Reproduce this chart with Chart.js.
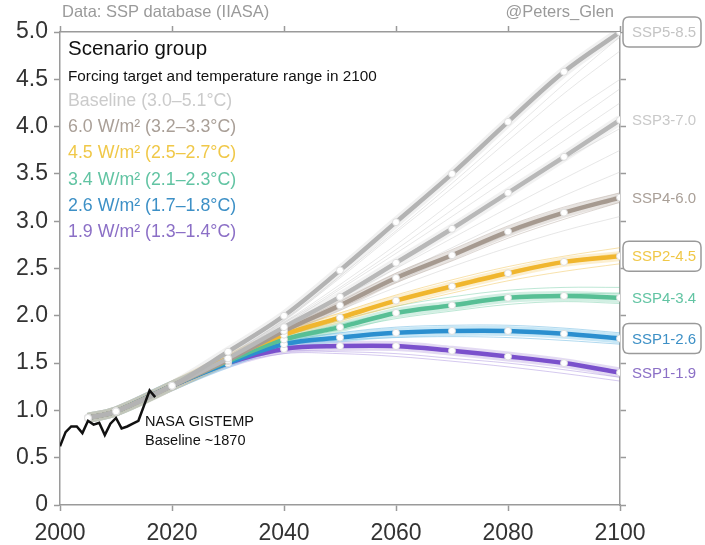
<!DOCTYPE html>
<html>
<head>
<meta charset="utf-8">
<script src="https://cdn.jsdelivr.net/npm/chart.js@4.4.0/dist/chart.umd.min.js"></script>
<style>
  html, body { margin: 0; padding: 0; background: #fff; }
  #wrap { width: 705px; height: 545px; }
</style>
</head>
<body>
<div id="wrap"><canvas id="myChart" width="705" height="545"></canvas></div>
<script>
// marker years for the main scenario lines
const anos = [2005, 2010, 2020, 2030, 2040, 2050, 2060, 2070, 2080, 2090, 2100];
const ssp585 = [0.92, 0.99, 1.26, 1.62, 2.00, 2.48, 2.99, 3.50, 4.05, 4.58, 5.00];
const ssp370 = [0.92, 0.99, 1.26, 1.55, 1.88, 2.20, 2.56, 2.92, 3.30, 3.68, 4.07];
const ssp460 = [0.92, 0.99, 1.26, 1.53, 1.84, 2.11, 2.40, 2.64, 2.89, 3.09, 3.25];
const ssp245 = [0.92, 0.99, 1.26, 1.55, 1.80, 1.98, 2.16, 2.31, 2.45, 2.57, 2.63];
const ssp434 = [0.92, 0.99, 1.26, 1.52, 1.75, 1.88, 2.03, 2.11, 2.19, 2.21, 2.19];
const ssp126 = [0.92, 0.99, 1.26, 1.50, 1.70, 1.77, 1.82, 1.84, 1.84, 1.81, 1.76];
const ssp119 = [0.92, 0.99, 1.26, 1.50, 1.65, 1.68, 1.68, 1.63, 1.57, 1.50, 1.40];

// thin ensemble members, one value per decade 2010..2100
const anosEns = [2010, 2020, 2030, 2040, 2050, 2060, 2070, 2080, 2090, 2100];
const ensBaseline = [
  [0.99, 1.25, 1.58, 1.96, 2.42, 2.90, 3.40, 3.92, 4.45, 4.95],
  [0.99, 1.25, 1.58, 1.95, 2.40, 2.88, 3.35, 3.85, 4.35, 4.80],
  [0.99, 1.25, 1.57, 1.93, 2.33, 2.75, 3.20, 3.65, 4.10, 4.50],
  [0.99, 1.24, 1.56, 1.92, 2.30, 2.70, 3.12, 3.55, 3.98, 4.40],
  [0.99, 1.24, 1.55, 1.90, 2.28, 2.66, 3.05, 3.45, 3.85, 4.25],
  [0.99, 1.24, 1.54, 1.88, 2.22, 2.58, 2.94, 3.30, 3.65, 3.98],
  [0.99, 1.24, 1.53, 1.86, 2.18, 2.50, 2.82, 3.14, 3.45, 3.75],
  [0.99, 1.23, 1.52, 1.83, 2.13, 2.43, 2.72, 3.00, 3.27, 3.52],
  [0.99, 1.23, 1.52, 1.82, 2.10, 2.36, 2.62, 2.86, 3.08, 3.28],
  [0.99, 1.23, 1.51, 1.80, 2.06, 2.30, 2.52, 2.72, 2.90, 3.05]
];
const ens60 = [
  [0.99, 1.25, 1.54, 1.86, 2.15, 2.45, 2.70, 2.95, 3.15, 3.30],
  [0.99, 1.25, 1.52, 1.82, 2.08, 2.35, 2.58, 2.82, 3.02, 3.20]
];
const ens45 = [
  [0.99, 1.25, 1.56, 1.83, 2.03, 2.22, 2.38, 2.52, 2.63, 2.72],
  [0.99, 1.25, 1.55, 1.80, 2.00, 2.17, 2.33, 2.47, 2.58, 2.66],
  [0.99, 1.25, 1.54, 1.78, 1.95, 2.10, 2.24, 2.37, 2.47, 2.55]
];
const ens34 = [
  [0.99, 1.25, 1.53, 1.78, 1.95, 2.10, 2.20, 2.27, 2.30, 2.30],
  [0.99, 1.25, 1.52, 1.76, 1.91, 2.04, 2.13, 2.20, 2.23, 2.24],
  [0.99, 1.25, 1.51, 1.73, 1.85, 1.97, 2.05, 2.12, 2.15, 2.13]
];
const ens26 = [
  [0.99, 1.25, 1.50, 1.72, 1.82, 1.88, 1.90, 1.90, 1.87, 1.82],
  [0.99, 1.25, 1.50, 1.70, 1.78, 1.83, 1.85, 1.84, 1.80, 1.75],
  [0.99, 1.25, 1.49, 1.68, 1.74, 1.77, 1.78, 1.77, 1.74, 1.70]
];
const ens19 = [
  [0.99, 1.25, 1.49, 1.66, 1.68, 1.66, 1.62, 1.56, 1.49, 1.42],
  [0.99, 1.24, 1.48, 1.62, 1.62, 1.60, 1.55, 1.50, 1.43, 1.35],
  [0.99, 1.24, 1.47, 1.60, 1.60, 1.57, 1.52, 1.46, 1.39, 1.31]
];

// NASA GISTEMP, baseline ~1870
const anosNasa = [2000, 2001, 2002, 2003, 2004, 2005, 2006, 2007, 2008, 2009, 2010, 2011, 2012, 2013, 2014, 2015, 2016, 2017];
const nasa = [0.62, 0.77, 0.83, 0.83, 0.76, 0.89, 0.85, 0.87, 0.74, 0.86, 0.92, 0.81, 0.83, 0.86, 0.89, 1.05, 1.21, 1.14];

const ticksY = [0, 0.5, 1.0, 1.5, 2.0, 2.5, 3.0, 3.5, 4.0, 4.5, 5.0];
const ticksX = [2000, 2020, 2040, 2060, 2080, 2100];

const legendaTitulo = 'Scenario group';
const legendaSub = 'Forcing target and temperature range in 2100';
const legendaItens = ['Baseline (3.0–5.1°C)', '6.0 W/m² (3.2–3.3°C)', '4.5 W/m² (2.5–2.7°C)',
  '3.4 W/m² (2.1–2.3°C)', '2.6 W/m² (1.7–1.8°C)', '1.9 W/m² (1.3–1.4°C)'];
const coresLegenda = ['#cbcbcb', '#a99f97', '#f0c848', '#62c4a3', '#3d90c6', '#8b6fc6'];

const cenarios = [
  { nome: 'SSP5-8.5', dados: ssp585, cor: '#b3b3b3', halo: 'rgba(200,200,200,0.25)', texto: '#c4c4c4', caixa: true },
  { nome: 'SSP3-7.0', dados: ssp370, cor: '#b8b8b8', halo: 'rgba(205,205,205,0.25)', texto: '#c9c9c9', caixa: false },
  { nome: 'SSP4-6.0', dados: ssp460, cor: '#a69a90', halo: 'rgba(185,175,165,0.35)', texto: '#a99f97', caixa: false },
  { nome: 'SSP2-4.5', dados: ssp245, cor: '#f0b62e', halo: 'rgba(245,210,120,0.35)', texto: '#f0c848', caixa: true },
  { nome: 'SSP4-3.4', dados: ssp434, cor: '#57bf95', halo: 'rgba(125,208,175,0.35)', texto: '#62c4a3', caixa: false },
  { nome: 'SSP1-2.6', dados: ssp126, cor: '#2b8fcf', halo: 'rgba(115,195,232,0.4)', texto: '#3d90c6', caixa: true },
  { nome: 'SSP1-1.9', dados: ssp119, cor: '#7a50cc', halo: 'rgba(175,150,222,0.35)', texto: '#8b6fc6', caixa: false }
];

const grupos = [
  { membros: ensBaseline, cor: 'rgba(185,185,185,0.35)' },
  { membros: ens60, cor: 'rgba(170,155,145,0.4)' },
  { membros: ens45, cor: 'rgba(240,190,70,0.45)' },
  { membros: ens34, cor: 'rgba(90,195,150,0.4)' },
  { membros: ens26, cor: 'rgba(60,160,215,0.4)' },
  { membros: ens19, cor: 'rgba(150,120,215,0.4)' }
];

function pontos(xs, ys) {
  return xs.map((x, i) => ({ x: x, y: ys[i] }));
}

const datasets = [];
grupos.forEach(g => {
  g.membros.forEach(m => {
    datasets.push({
      data: pontos(anosEns, m), borderColor: g.cor, borderWidth: 1,
      pointRadius: 0, tension: 0.35, order: 4
    });
  });
});
cenarios.forEach(c => {
  datasets.push({
    data: pontos(anos, c.dados), borderColor: c.halo, borderWidth: 10,
    pointRadius: 0, tension: 0.35, order: 3
  });
});
cenarios.forEach(c => {
  datasets.push({
    data: pontos(anos, c.dados), borderColor: c.cor, borderWidth: 4.5,
    pointRadius: 3.5, pointBackgroundColor: '#ffffff', pointBorderColor: 'rgba(220,220,220,0.9)',
    pointBorderWidth: 1, tension: 0.35, order: 2
  });
});
datasets.push({
  data: pontos(anosNasa, nasa), borderColor: '#111111', borderWidth: 2.5,
  pointRadius: 0, tension: 0, order: 1
});

const fonte = '"Liberation Sans", Arial, Helvetica, sans-serif';

function caixaArredondada(ctx, x, y, w, h, r) {
  ctx.beginPath();
  ctx.moveTo(x + r, y);
  ctx.lineTo(x + w - r, y);
  ctx.quadraticCurveTo(x + w, y, x + w, y + r);
  ctx.lineTo(x + w, y + h - r);
  ctx.quadraticCurveTo(x + w, y + h, x + w - r, y + h);
  ctx.lineTo(x + r, y + h);
  ctx.quadraticCurveTo(x, y + h, x, y + h - r);
  ctx.lineTo(x, y + r);
  ctx.quadraticCurveTo(x, y, x + r, y);
  ctx.closePath();
}

const textosPlugin = {
  id: 'textos',
  afterDraw(chart) {
    const ctx = chart.ctx;
    const area = chart.chartArea;
    const sy = chart.scales.y;
    const sx = chart.scales.x;
    ctx.save();
    ctx.textBaseline = 'middle';

    // fontes e créditos no topo
    ctx.font = '16.5px ' + fonte;
    ctx.fillStyle = '#9a9a9a';
    ctx.textAlign = 'left';
    ctx.fillText('Data: SSP database (IIASA)', area.left + 2, 12);
    ctx.textAlign = 'right';
    ctx.fillText('@Peters_Glen', area.right - 6, 12);

    // legenda
    ctx.textAlign = 'left';
    ctx.fillStyle = '#111';
    ctx.font = '20.5px ' + fonte;
    ctx.fillText(legendaTitulo, 68, 49);
    ctx.font = '15.3px ' + fonte;
    ctx.fillText(legendaSub, 68, 77);
    ctx.font = '17.8px ' + fonte;
    legendaItens.forEach((t, i) => {
      ctx.fillStyle = coresLegenda[i];
      ctx.fillText(t, 68, 101 + i * 26.3);
    });

    // anotação NASA
    ctx.fillStyle = '#111';
    ctx.font = '14.5px ' + fonte;
    ctx.fillText('NASA GISTEMP', sx.getPixelForValue(2015.2), 422);
    ctx.fillText('Baseline ~1870', sx.getPixelForValue(2015.2), 441);

    // rótulos à direita
    ctx.font = '15px ' + fonte;
    cenarios.forEach(c => {
      const yv = sy.getPixelForValue(c.dados[c.dados.length - 1]);
      if (c.caixa) {
        ctx.strokeStyle = '#9a9a9a';
        ctx.lineWidth = 1.5;
        ctx.fillStyle = '#fff';
        caixaArredondada(ctx, area.right + 3, yv - 15, 78, 30, 6);
        ctx.fill();
        ctx.stroke();
      }
      ctx.fillStyle = c.texto;
      ctx.fillText(c.nome, area.right + 12, yv + 1);
    });
    ctx.restore();
  }
};

const eixo = {
  border: { display: true, color: '#9a9a9a', width: 1.5 },
  grid: { display: true, drawOnChartArea: false, drawTicks: true, tickLength: 6, color: '#9a9a9a', tickWidth: 1.5 }
};
const semRotulo = { color: 'rgba(0,0,0,0)', font: { size: 1 }, padding: 0, autoSkip: false, callback: () => '' };

new Chart(document.getElementById('myChart'), {
  type: 'line',
  data: { datasets: datasets },
  plugins: [textosPlugin],
  options: {
    responsive: false,
    animation: false,
    events: [],
    layout: { padding: 0 },
    plugins: { legend: { display: false }, tooltip: { enabled: false }, title: { display: false } },
    scales: {
      x: {
        type: 'linear', position: 'bottom', min: 2000, max: 2100,
        afterBuildTicks: s => { s.ticks = ticksX.map(v => ({ value: v })); },
        afterFit: s => { s.height = 40; },
        ticks: { font: { family: fonte, size: 23 }, color: '#333', padding: 9, maxRotation: 0, autoSkip: false,
          callback: v => String(v) },
        ...eixo
      },
      x2: {
        type: 'linear', position: 'top', min: 2000, max: 2100,
        afterBuildTicks: s => { s.ticks = ticksX.map(v => ({ value: v })); },
        afterFit: s => { s.height = 32; },
        ticks: semRotulo,
        ...eixo
      },
      y: {
        type: 'linear', position: 'left', min: 0, max: 5,
        afterBuildTicks: s => { s.ticks = ticksY.map(v => ({ value: v })); },
        afterFit: s => { s.width = 60; },
        ticks: {
          font: { family: fonte, size: 23 }, color: '#333', padding: 6, autoSkip: false,
          callback: v => (v === 0 ? '0' : v.toFixed(1))
        },
        ...eixo
      },
      y2: {
        type: 'linear', position: 'right', min: 0, max: 5,
        afterBuildTicks: s => { s.ticks = ticksY.map(v => ({ value: v })); },
        afterFit: s => { s.width = 85; },
        ticks: semRotulo,
        ...eixo
      }
    }
  }
});
</script>
</body>
</html>
